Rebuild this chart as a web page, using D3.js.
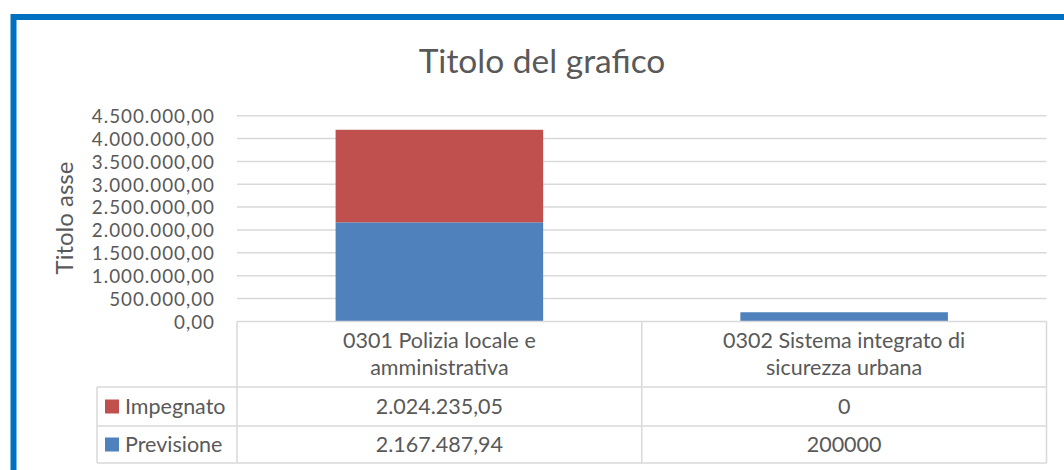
<!DOCTYPE html>
<html>
<head>
<meta charset="utf-8">
<script src="https://cdn.jsdelivr.net/npm/d3@7"></script>
<style>
  html, body { margin: 0; padding: 0; background: #fff; }
  svg { display: block; }
  text { font-family: Lato, "Open Sans", sans-serif; fill: #595959; }
</style>
</head>
<body>
<svg id="chart" width="1064" height="470"></svg>
<script>
// ---- data ----
const categories = [["0301 Polizia locale e", "amministrativa"], ["0302 Sistema integrato di", "sicurezza urbana"]];
const categoryKeys = ["0301", "0302"];
const previsione = [2167487.94, 200000];
const impegnato = [2024235.05, 0];
const seriesNames = ["Previsione", "Impegnato"];
const seriesColors = ["#4F81BD", "#C0504D"];
const yTicks = [0, 500000, 1000000, 1500000, 2000000, 2500000, 3000000, 3500000, 4000000, 4500000];
const chartTitle = "Titolo del grafico";
const yAxisTitle = "Titolo asse";

// ---- layout ----
const svg = d3.select("#chart");
const plot = { left: 237, right: 1046.5, top: 115.7, bottom: 321.4 };
const tableTop = 321.4, headerBottom = 387, row1Bottom = 426, row2Bottom = 463;
const legendLeft = 97;
const bodyFont = 21.5;

const itLocale = d3.formatLocale({ decimal: ",", thousands: ".", grouping: [3], currency: ["€", ""] });
const fmt2 = itLocale.format(",.2f");
const cellFmt = v => Number.isInteger(v) ? String(v) : fmt2(v);

// frame border
svg.append("rect")
  .attr("x", 13.5).attr("y", 17).attr("width", 1100).attr("height", 500)
  .attr("fill", "none").attr("stroke", "#0070C0").attr("stroke-width", 6);

// scales
const x = d3.scaleBand().domain(categoryKeys).range([plot.left, plot.right]).paddingInner(0).paddingOuter(0);
const y = d3.scaleLinear().domain([0, 4500000]).range([plot.bottom, plot.top]);
const barW = x.bandwidth() / 1.95;

// gridlines
svg.append("g").selectAll("line").data(yTicks.filter(d => d > 0)).join("line")
  .attr("x1", plot.left).attr("x2", plot.right)
  .attr("y1", d => y(d)).attr("y2", d => y(d))
  .attr("stroke", "#D9D9D9").attr("stroke-width", 1.5);

// y axis labels
const yAxis = d3.axisLeft(y).tickValues(yTicks).tickFormat(fmt2).tickSize(0).tickPadding(0);
const gy = svg.append("g").attr("transform", `translate(215,0)`).call(yAxis);
gy.select(".domain").remove();
gy.selectAll("text").attr("font-size", 18.8).attr("fill", "#595959")
  .attr("letter-spacing", 1)
  .style("font-family", "Lato, 'Open Sans', sans-serif").attr("dy", "0.36em");

// stacked bars
const stackData = categoryKeys.map((k, i) => ({ key: k, Previsione: previsione[i], Impegnato: impegnato[i] }));
const stacked = d3.stack().keys(seriesNames)(stackData);
svg.append("g").selectAll("g").data(stacked).join("g")
  .attr("fill", (d, i) => seriesColors[i])
  .selectAll("rect").data(d => d).join("rect")
  .attr("x", d => x(d.data.key) + (x.bandwidth() - barW) / 2)
  .attr("width", barW)
  .attr("y", d => y(d[1]))
  .attr("height", d => y(d[0]) - y(d[1]));

// data table
const tbl = svg.append("g").attr("stroke", "#D9D9D9").attr("stroke-width", 1.5);
tbl.append("line").attr("x1", plot.left).attr("x2", plot.right).attr("y1", tableTop).attr("y2", tableTop);
[headerBottom, row1Bottom, row2Bottom].forEach(yy =>
  tbl.append("line").attr("x1", legendLeft).attr("x2", plot.right).attr("y1", yy).attr("y2", yy));
[plot.left, plot.left + x.bandwidth(), plot.right].forEach(xx =>
  tbl.append("line").attr("x1", xx).attr("x2", xx).attr("y1", tableTop).attr("y2", row2Bottom));
tbl.append("line").attr("x1", legendLeft).attr("x2", legendLeft).attr("y1", headerBottom).attr("y2", row2Bottom);

// category header
categoryKeys.forEach((k, i) => {
  const cx = x(k) + x.bandwidth() / 2;
  categories[i].forEach((line, j) => {
    svg.append("text").attr("x", cx).attr("y", 348 + j * 26.5)
      .attr("text-anchor", "middle").attr("font-size", bodyFont).text(line);
  });
});

// rows: Impegnato (top), Previsione (bottom)
const rows = [
  { name: seriesNames[1], color: seriesColors[1], vals: impegnato, top: headerBottom, bottom: row1Bottom },
  { name: seriesNames[0], color: seriesColors[0], vals: previsione, top: row1Bottom, bottom: row2Bottom }
];
rows.forEach(r => {
  const cy = (r.top + r.bottom) / 2;
  svg.append("rect").attr("x", 105).attr("y", cy - 7).attr("width", 14).attr("height", 14).attr("fill", r.color);
  svg.append("text").attr("x", 125).attr("y", cy).attr("dy", "0.35em").attr("font-size", bodyFont).text(r.name);
  categoryKeys.forEach((k, i) => {
    svg.append("text").attr("x", x(k) + x.bandwidth() / 2).attr("y", cy).attr("dy", "0.35em")
      .attr("text-anchor", "middle").attr("font-size", bodyFont).text(cellFmt(r.vals[i]));
  });
});

// titles
svg.append("text").attr("x", 542).attr("y", 73).attr("text-anchor", "middle")
  .attr("font-size", 33.5).text(chartTitle);
svg.append("text").attr("transform", "translate(73,218) rotate(-90)")
  .attr("text-anchor", "middle").attr("font-size", 24).text(yAxisTitle);
</script>
</body>
</html>
